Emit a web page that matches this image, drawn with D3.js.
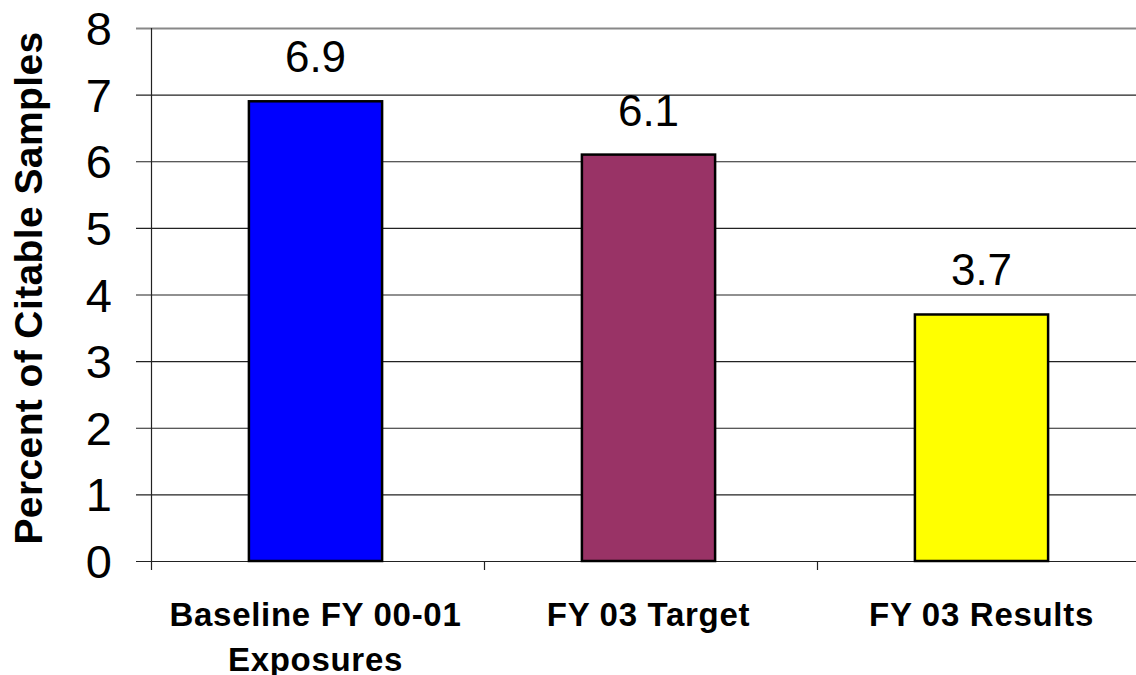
<!DOCTYPE html>
<html>
<head>
<meta charset="utf-8">
<script src="https://cdn.jsdelivr.net/npm/d3@7"></script>
<style>
body { margin:0; background:#fff; overflow:hidden; }
text { font-family: "Liberation Sans", Arial, sans-serif; }
</style>
</head>
<body>
<div id="chart-area"></div>
<script>
// chart data
var categories = ["Baseline FY 00-01 Exposures", "FY 03 Target", "FY 03 Results"];
var catLines = [["Baseline FY 00-01", "Exposures"], ["FY 03 Target"], ["FY 03 Results"]];
var values = [6.9, 6.1, 3.7];
var colors = ["#0000FF", "#993366", "#FFFF00"];
var yTicks = [0, 1, 2, 3, 4, 5, 6, 7, 8];
var yTitle = "Percent of Citable Samples";

var W = 1136, H = 675;
var plotLeft = 151, plotRight = 1150, plotTop = 28, plotBottom = 561;

var svg = d3.select("#chart-area").append("svg")
	.attr("width", W)
	.attr("height", H);

var x = d3.scaleBand()
	.domain(categories)
	.range([plotLeft, plotRight])
	.paddingInner(0)
	.paddingOuter(0);

var y = d3.scaleLinear()
	.domain([0, 8])
	.range([plotBottom, plotTop]);

// gridlines
svg.selectAll(".grid")
	.data(yTicks)
	.enter()
	.append("line")
	.attr("x1", plotLeft - 15)
	.attr("x2", plotRight)
	.attr("y1", function(d){ return y(d) + 0.5; })
	.attr("y2", function(d){ return y(d) + 0.5; })
	.style("stroke", function(d){ return d == 8 ? "#888" : "#222"; })
	.style("stroke-width", function(d){ return d == 8 ? 2 : 1.2; });

// y axis line
svg.append("line")
	.attr("x1", plotLeft + 0.5).attr("x2", plotLeft + 0.5)
	.attr("y1", plotTop).attr("y2", plotBottom + 9)
	.style("stroke", "#222").style("stroke-width", 1.2);

// category ticks
var catEdges = categories.map(function(c){ return x(c) + x.bandwidth(); });
svg.selectAll(".ctick")
	.data(catEdges)
	.enter()
	.append("line")
	.attr("x1", function(d){ return d + 0.5; })
	.attr("x2", function(d){ return d + 0.5; })
	.attr("y1", plotBottom)
	.attr("y2", plotBottom + 9)
	.style("stroke", "#222").style("stroke-width", 1.2);

// y tick labels
svg.selectAll(".ylabel")
	.data(yTicks)
	.enter()
	.append("text")
	.attr("x", 112)
	.attr("y", function(d){ return y(d) + 17; })
	.attr("text-anchor", "end")
	.style("font-size", "47px")
	.text(function(d){ return d; });

// bars
var barW = x.bandwidth() * 0.40;
svg.selectAll(".bar")
	.data(values)
	.enter()
	.append("rect")
	.attr("x", function(d, i){ return x(categories[i]) + x.bandwidth()/2 - barW/2 - 2; })
	.attr("width", barW)
	.attr("y", function(d){ return y(d); })
	.attr("height", function(d){ return plotBottom - y(d); })
	.style("fill", function(d, i){ return colors[i]; })
	.style("stroke", "#000")
	.style("stroke-width", 2.5);

// value labels
svg.selectAll(".barlabel")
	.data(values)
	.enter()
	.append("text")
	.attr("text-anchor", "middle")
	.attr("x", function(d, i){ return x(categories[i]) + x.bandwidth()/2 - 2; })
	.attr("y", function(d){ return y(d) - 29; })
	.style("font-size", "44px")
	.text(function(d){ return d.toFixed(1); });

// category labels
catLines.forEach(function(lines, i){
	var t = svg.append("text")
		.attr("text-anchor", "middle")
		.attr("x", x(categories[i]) + x.bandwidth()/2 - 2)
		.attr("y", 626)
		.style("font-size", "33px")
		.style("font-weight", "bold")
		.style("letter-spacing", "0.7px");
	lines.forEach(function(l, j){
		t.append("tspan")
			.attr("x", x(categories[i]) + x.bandwidth()/2 - 2)
			.attr("dy", j == 0 ? 0 : 45)
			.text(l);
	});
});

// y title
svg.append("text")
	.attr("transform", "translate(42," + 288 + ") rotate(-90)")
	.attr("text-anchor", "middle")
	.style("font-size", "39px")
	.style("font-weight", "bold")
	.style("letter-spacing", "0.4px")
	.text(yTitle);
</script>
</body>
</html>
